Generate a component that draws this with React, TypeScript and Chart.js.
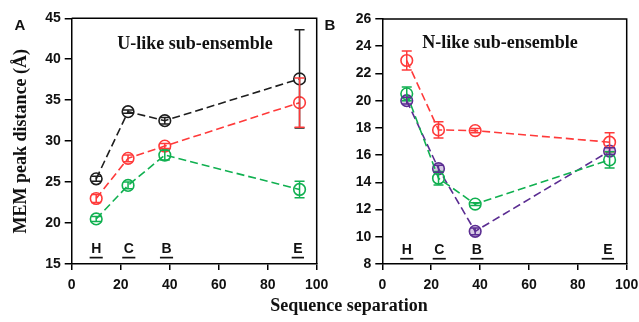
import React, { useEffect, useRef } from "react";
import { Chart, registerables } from "chart.js";

Chart.register(...registerables);

// ---------- data ----------
const separations = [10, 23, 38, 93];
const segmentLabels = ["H", "C", "B", "E"];
const segmentLabelX = [10, 23.3, 38.7, 92.3];

const uBlack = [25.4, 33.6, 32.5, 37.6];
const uBlackErr = [0.3, 0.2, 0.4, 6.0];
const uRed = [23.0, 27.9, 29.4, 34.7];
const uRedErr = [0.5, 0.4, 0.3, 3.0];
const uGreen = [20.5, 24.6, 28.3, 24.1];
const uGreenErr = [0.3, 0.4, 0.6, 1.0];

const nRed = [22.95, 17.85, 17.8, 16.95];
const nRedErr = [0.7, 0.6, 0.15, 0.7];
const nGreen = [20.5, 14.3, 12.4, 15.65];
const nGreenErr = [0.5, 0.5, 0.1, 0.6];
const nPurple = [20.0, 15.0, 10.4, 16.3];
const nPurpleErr = [0.25, 0.25, 0.25, 0.25];

const BLACK = "#1e1e1e";
const RED = "#ff3a3a";
const GREEN = "#10b050";
const PURPLE = "#5b2d92";

type Series = { values: number[]; errors: number[]; color: string; fill?: string };

const framePlugin = {
  id: "frame",
  afterDraw(chart: any) {
    const { ctx, chartArea: a } = chart;
    ctx.save();
    ctx.strokeStyle = "#000";
    ctx.lineWidth = 1.5;
    ctx.beginPath();
    ctx.moveTo(a.left, a.top);
    ctx.lineTo(a.right, a.top);
    ctx.lineTo(a.right, a.bottom);
    ctx.stroke();
    ctx.restore();
  },
};

const errorBarPlugin = {
  id: "errorBars",
  afterDatasetsDraw(chart: any) {
    const { ctx } = chart;
    const ys = chart.scales.y;
    chart.data.datasets.forEach((ds: any, di: number) => {
      const meta = chart.getDatasetMeta(di);
      ctx.save();
      ctx.strokeStyle = ds.borderColor;
      ctx.lineWidth = 1.5;
      ds.errors.forEach((e: number, i: number) => {
        const pt = meta.data[i];
        const x = pt.x;
        const yt = ys.getPixelForValue(ds.data[i].y + e);
        const yb = ys.getPixelForValue(ds.data[i].y - e);
        ctx.beginPath();
        ctx.moveTo(x, yt);
        ctx.lineTo(x, yb);
        ctx.moveTo(x - 5, yt);
        ctx.lineTo(x + 5, yt);
        ctx.moveTo(x - 5, yb);
        ctx.lineTo(x + 5, yb);
        ctx.stroke();
      });
      ctx.restore();
    });
  },
};

const decoPlugin = {
  id: "panelDeco",
  afterDraw(chart: any) {
    const o = chart.options.plugins.panelDeco;
    const { ctx } = chart;
    const xs = chart.scales.x;
    const ys = chart.scales.y;
    ctx.save();
    ctx.fillStyle = "#111";
    ctx.textAlign = "center";
    ctx.textBaseline = "middle";
    ctx.font = 'bold 15px "Liberation Sans"';
    ctx.fillText(o.panel, o.panelX, o.panelY);
    ctx.font = 'bold 18px "Liberation Serif"';
    ctx.fillText(o.title, o.titleX, o.titleY);
    ctx.font = 'bold 14px "Liberation Sans"';
    segmentLabels.forEach((m, i) => {
      const x = xs.getPixelForValue(segmentLabelX[i]);
      const y = ys.getPixelForValue(o.labelY);
      ctx.fillText(m, x, y);
      const w = ctx.measureText(m).width;
      ctx.fillRect(x - w / 2 - 1.5, y + 7.5, w + 3, 1.7);
    });
    ctx.restore();
  },
};

type PanelSpec = {
  series: Series[];
  yMin: number;
  yMax: number;
  yStep: number;
  yWidth: number;
  top: number;
  padRight: number;
  yTitle?: string;
  deco: any;
};

function buildConfig(p: PanelSpec): any {
  const tickFont = { family: "Liberation Sans", size: 14, weight: "bold" };
  return {
    type: "line",
    data: {
      datasets: p.series.map((s) => ({
        data: separations.map((x, i) => ({ x, y: s.values[i] })),
        errors: s.errors,
        borderColor: s.color,
        backgroundColor: s.fill ?? "rgba(0,0,0,0)",
        borderWidth: 1.6,
        borderDash: [8, 4],
        pointRadius: 5.8,
        pointBorderWidth: 1.6,
        pointBorderColor: s.color,
        pointBackgroundColor: s.fill ?? "rgba(0,0,0,0)",
        pointStyle: "circle",
        tension: 0,
        fill: false,
      })),
    },
    options: {
      responsive: false,
      animation: false,
      events: [],
      layout: { padding: { left: 0, top: p.top, right: p.padRight, bottom: 0 } },
      plugins: {
        legend: { display: false },
        tooltip: { enabled: false },
        panelDeco: p.deco,
      },
      scales: {
        x: {
          type: "linear",
          min: 0,
          max: 100,
          ticks: { stepSize: 20, font: tickFont, color: "#111", padding: 7, maxRotation: 0 },
          grid: { drawOnChartArea: false, tickLength: 6, color: "#000", lineWidth: 1.5 },
          border: { color: "#000", width: 1.5 },
          afterFit: (s: any) => {
            s.height = 58;
            s.paddingLeft = 0;
            s.paddingRight = 0;
          },
        },
        y: {
          type: "linear",
          min: p.yMin,
          max: p.yMax,
          ticks: { stepSize: p.yStep, font: tickFont, color: "#111", padding: 4 },
          grid: { drawOnChartArea: false, tickLength: 7, color: "#000", lineWidth: 1.5 },
          border: { color: "#000", width: 1.5 },
          title: {
            display: !!p.yTitle,
            text: p.yTitle ?? "",
            font: { family: "Liberation Serif", size: 18, weight: "bold" },
            color: "#111",
            padding: { top: 11, bottom: 0 },
          },
          afterFit: (s: any) => {
            s.width = p.yWidth;
            s.paddingTop = 0;
            s.paddingBottom = 0;
          },
        },
      },
    },
    plugins: [framePlugin, errorBarPlugin, decoPlugin],
  };
}

const leftSpec: PanelSpec = {
  series: [
    { values: uBlack, errors: uBlackErr, color: BLACK },
    { values: uRed, errors: uRedErr, color: RED },
    { values: uGreen, errors: uGreenErr, color: GREEN },
  ],
  yMin: 15,
  yMax: 45,
  yStep: 5,
  yWidth: 71.7,
  top: 18.3,
  padRight: 23.3,
  yTitle: "MEM peak distance (Å)",
  deco: { panel: "A", panelX: 20, panelY: 26, title: "U-like sub-ensemble", titleX: 195, titleY: 44, labelY: 16.8 },
};

const rightSpec: PanelSpec = {
  series: [
    { values: nRed, errors: nRedErr, color: RED },
    { values: nGreen, errors: nGreenErr, color: GREEN },
    { values: nPurple, errors: nPurpleErr, color: PURPLE, fill: "rgba(91,45,146,0.25)" },
  ],
  yMin: 8,
  yMax: 26,
  yStep: 2,
  yWidth: 62.3,
  top: 19,
  padRight: 12.3,
  deco: { panel: "B", panelX: 10, panelY: 26, title: "N-like sub-ensemble", titleX: 180, titleY: 43, labelY: 9.0 },
};

function Panel({ spec, left, width }: { spec: PanelSpec; left: number; width: number }) {
  const ref = useRef<HTMLCanvasElement | null>(null);
  useEffect(() => {
    if (!ref.current) return;
    const chart = new Chart(ref.current, buildConfig(spec));
    return () => chart.destroy();
  }, [spec]);
  return (
    <canvas
      ref={ref}
      width={width}
      height={322}
      style={{ position: "absolute", left, top: 0, width, height: 322 }}
    />
  );
}

export default function App() {
  return (
    <div
      style={{
        position: "fixed",
        left: 0,
        top: 0,
        width: 639,
        height: 322,
        background: "#fff",
        overflow: "hidden",
      }}
    >
      <Panel spec={leftSpec} left={0} width={340} />
      <Panel spec={rightSpec} left={320} width={319} />
      <div
        style={{
          position: "absolute",
          left: 199,
          top: 294,
          width: 300,
          textAlign: "center",
          font: 'bold 18px "Liberation Serif"',
          lineHeight: "22px",
          color: "#111",
        }}
      >
        Sequence separation
      </div>
    </div>
  );
}
